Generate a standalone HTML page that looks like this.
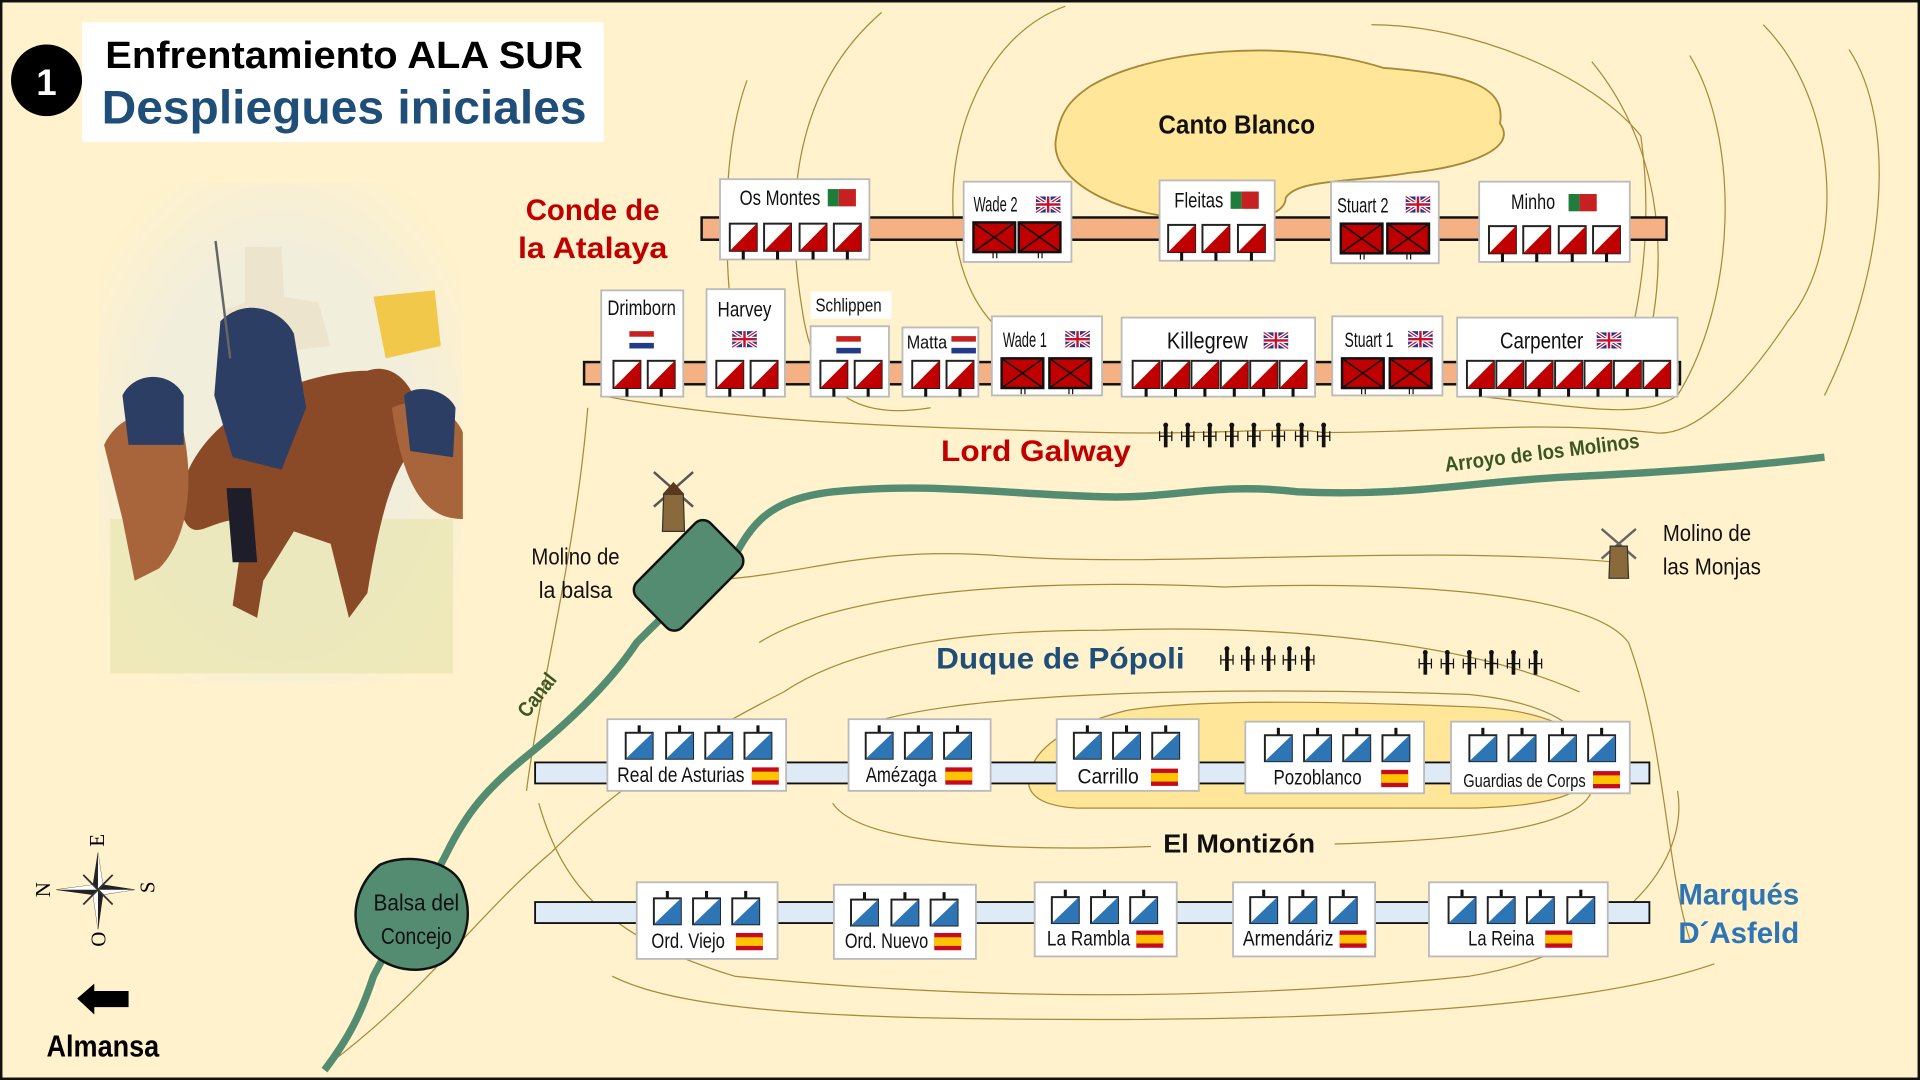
<!DOCTYPE html>
<html><head><meta charset="utf-8"><style>
html,body{margin:0;padding:0;background:#fff2cc;}
svg{display:block;}
.n{font-family:"Liberation Sans Narrow","Liberation Sans",sans-serif;}
</style></head><body>
<svg width="1920" height="1080" viewBox="0 0 1568 874" preserveAspectRatio="none" xmlns="http://www.w3.org/2000/svg">
<defs>
<g id="r"><rect x="0" y="0" width="22" height="22" fill="#fff" stroke="#222" stroke-width="1.6"/><polygon points="22,0 22,22 0,22" fill="#c00000"/><line x1="11" y1="22" x2="11" y2="29" stroke="#111" stroke-width="2.5"/></g>
<g id="c"><rect x="0" y="0" width="34" height="24" fill="#c00000" stroke="#111" stroke-width="2"/><line x1="0" y1="0" x2="34" y2="24" stroke="#111" stroke-width="1.3"/><line x1="34" y1="0" x2="0" y2="24" stroke="#111" stroke-width="1.3"/><line x1="16" y1="24" x2="16" y2="29" stroke="#111"/><line x1="19" y1="24" x2="19" y2="29" stroke="#111"/></g>
<g id="b"><line x1="11" y1="-6" x2="11" y2="0" stroke="#111" stroke-width="2.5"/><rect x="0" y="0" width="22" height="21" fill="#fff" stroke="#222" stroke-width="1.6"/><polygon points="22,0 22,21 0,21" fill="#2e75b6"/></g>
<g id="uk"><rect width="20" height="13" fill="#1f3b8a"/><path d="M0 0L20 13M20 0L0 13" stroke="#fff" stroke-width="3"/><path d="M0 0L20 13M20 0L0 13" stroke="#c8102e" stroke-width="1"/><path d="M10 0V13M0 6.5H20" stroke="#fff" stroke-width="4"/><path d="M10 0V13M0 6.5H20" stroke="#c8102e" stroke-width="2"/></g>
<g id="pt"><rect width="9" height="14" fill="#1e7d3a"/><rect x="9" width="14" height="14" fill="#c62020"/></g>
<g id="nl"><rect width="20" height="14" fill="#fff"/><rect width="20" height="4.5" fill="#c62020"/><rect y="9.5" width="20" height="4.5" fill="#1f3b8a"/></g>
<g id="es"><rect width="22" height="14" fill="#c60b1e"/><rect y="3.5" width="22" height="7" fill="#ffc400"/></g>
<g id="fig"><rect x="-1.5" y="-8" width="3" height="18" fill="#111"/><circle cx="0" cy="-8" r="2" fill="#111"/><path d="M-5 -3V5M5 -3V5M-5 1H5" stroke="#111" stroke-width="1"/></g>
</defs>
<rect x="0" y="0" width="1568" height="874" fill="#fff2cc"/>
<g fill="none" stroke="#a8893a" stroke-width="1">
<path d="M610 65 C590 120 590 200 600 280"/>
<path d="M720 10 C650 70 640 160 655 250 C665 320 700 340 760 330"/>
<path d="M870 5 C800 30 770 120 780 190 C790 260 830 300 940 310 C1100 320 1200 300 1220 280"/>
<path d="M1120 20 C1200 20 1300 60 1340 110 C1350 180 1340 240 1330 280"/>
<path d="M1300 50 C1350 110 1370 200 1340 300"/>
<path d="M1380 45 C1420 110 1420 240 1370 320 C1340 340 1300 330 1200 320"/>
<path d="M1440 20 C1500 80 1510 200 1460 260 C1420 320 1380 355 1350 350 C1250 340 1180 350 1080 350"/>
<path d="M1510 40 C1550 100 1540 220 1490 320"/>
<path d="M490 320 C600 340 700 345 900 350 C1000 352 1050 345 1080 350"/>
<path d="M560 470 C650 470 700 440 820 450 C950 460 1150 440 1320 455"/>
<path d="M620 520 C700 470 900 470 1000 475 C1150 470 1300 480 1330 520 C1360 600 1360 700 1380 760"/>
<path d="M270 860 C350 800 390 740 450 690 C500 640 560 600 640 560 C700 520 800 510 900 510 C1050 505 1200 520 1290 560"/>
<path d="M440 650 C460 720 500 760 600 790 C800 810 1000 810 1200 790 C1320 770 1380 700 1370 640"/>
<path d="M680 650 C700 680 800 690 940 685 M1090 683 C1200 680 1290 670 1300 640 C1310 600 1280 570 1200 562 C1000 555 760 560 700 590"/>
<path d="M500 790 C560 820 700 825 900 825 C1100 825 1300 815 1400 780"/>
<path d="M480 330 C470 450 440 560 430 640"/>
</g>
<path d="M890 70 C940 40 1050 30 1130 55 C1200 60 1230 70 1225 100 C1240 120 1200 135 1150 140 C1100 148 1060 145 1050 160 C1050 175 1020 180 990 178 C920 178 860 150 862 115 C865 90 875 80 890 70Z" fill="#ffe699" stroke="#a8893a" stroke-width="1.5"/>
<text x="1010" y="108" class="n" font-size="21" font-weight="bold" text-anchor="middle" fill="#111" textLength="128" lengthAdjust="spacingAndGlyphs">Canto Blanco</text>
<path d="M920 575 C980 565 1100 568 1200 572 C1260 574 1295 590 1300 615 C1300 640 1280 652 1200 654 L880 654 C845 652 835 640 842 622 C850 600 880 585 920 575Z" fill="#ffe699" stroke="#a8893a" stroke-width="1"/>
<rect x="940" y="670" width="140" height="26" fill="#fff2cc"/>
<text x="1012" y="690" class="n" font-size="21" font-weight="bold" text-anchor="middle" fill="#111" textLength="124" lengthAdjust="spacingAndGlyphs">El Montizón</text>
<path d="M590 470 C610 430 620 405 680 398 C760 390 820 400 900 402 C960 404 990 390 1060 398 C1150 402 1200 390 1280 386 C1360 382 1420 378 1490 370" fill="none" stroke="#548c72" stroke-width="6"/>
<text x="1260" y="372" class="n" font-size="17" font-weight="bold" fill="#385723" text-anchor="middle" transform="rotate(-7 1260 372)" textLength="160" lengthAdjust="spacingAndGlyphs">Arroyo de los Molinos</text>
<path d="M265 866 C285 840 295 820 305 790 C320 760 350 720 365 690 C380 660 395 640 430 612 C470 580 500 550 520 520 C540 500 560 480 590 460" fill="none" stroke="#548c72" stroke-width="6"/>
<rect x="520" y="440" width="85" height="52" rx="9" fill="#548c72" stroke="#111" stroke-width="2" transform="rotate(-45 562 466)"/>
<text x="443" y="566" class="n" font-size="17" font-weight="bold" fill="#385723" text-anchor="middle" transform="rotate(-52 443 566)" textLength="40" lengthAdjust="spacingAndGlyphs">Canal</text>
<path d="M310 700 C330 690 370 695 378 718 C388 745 378 770 360 780 C335 792 305 780 295 760 C285 740 292 715 310 700Z" fill="#548c72" stroke="#111" stroke-width="2"/>
<text x="340" y="737" class="n" font-size="19" text-anchor="middle" fill="#111" textLength="70" lengthAdjust="spacingAndGlyphs">Balsa del</text>
<text x="340" y="764" class="n" font-size="19" text-anchor="middle" fill="#111" textLength="58" lengthAdjust="spacingAndGlyphs">Concejo</text>
<g transform="translate(550,410)"><path d="M-16 -28L16 0M16 -28L-16 0" stroke="#555" stroke-width="2"/><path d="M-8 -10 L8 -10 L9 20 L-9 20Z" fill="#8a6a3a" stroke="#333"/><path d="M-9 -10 L0 -20 L9 -10Z" fill="#5a3a1a"/></g>
<text x="470" y="457" class="n" font-size="19" text-anchor="middle" fill="#111" textLength="72" lengthAdjust="spacingAndGlyphs">Molino de</text>
<text x="470" y="484" class="n" font-size="19" text-anchor="middle" fill="#111" textLength="60" lengthAdjust="spacingAndGlyphs">la balsa</text>
<g transform="translate(1322,448)"><path d="M-14 -20L14 4M14 -20L-14 4" stroke="#666" stroke-width="2"/><path d="M-7 -6 L7 -6 L8 20 L-8 20Z" fill="#8a6a3a" stroke="#333"/></g>
<text x="1394" y="438" class="n" font-size="19" text-anchor="middle" fill="#111" textLength="72" lengthAdjust="spacingAndGlyphs">Molino de</text>
<text x="1398" y="465" class="n" font-size="19" text-anchor="middle" fill="#111" textLength="80" lengthAdjust="spacingAndGlyphs">las Monjas</text>
<rect x="67" y="18" width="426" height="97" fill="#fff"/>
<circle cx="38" cy="65" r="29" fill="#000"/>
<text x="38" y="77" font-family="Liberation Sans" font-weight="bold" font-size="30" fill="#fff" text-anchor="middle">1</text>
<text x="281" y="55" font-family="Liberation Sans" font-weight="bold" font-size="31" fill="#000" text-anchor="middle" textLength="390" lengthAdjust="spacingAndGlyphs">Enfrentamiento ALA SUR</text>
<text x="281" y="100" font-family="Liberation Sans" font-weight="bold" font-size="38" fill="#1f4e79" text-anchor="middle" textLength="396" lengthAdjust="spacingAndGlyphs">Despliegues iniciales</text>
<defs><radialGradient id="pg" cx="0.5" cy="0.5" r="0.6"><stop offset="0.6" stop-color="#f2eedc"/><stop offset="1" stop-color="#fff2cc"/></radialGradient></defs>
<rect x="80" y="148" width="298" height="405" fill="url(#pg)"/>
<rect x="90" y="420" width="280" height="125" fill="#e8e6b0" opacity="0.7"/>
<path d="M200 200 L230 200 L232 240 L260 245 L270 280 L180 290 L185 250 L200 245Z" fill="#ece4cc"/>
<path d="M150 390 C170 330 250 300 300 300 C330 290 350 330 340 360 C320 380 310 420 300 480 L285 500 L270 440 L240 430 L215 470 L210 500 L190 490 L200 420 C170 420 160 440 150 420Z" fill="#8a4a28"/>
<path d="M85 360 C100 330 130 330 150 350 C160 400 150 440 130 460 L110 470 L100 420 Z" fill="#a8643a"/>
<path d="M320 330 C340 320 370 330 378 350 L378 420 C350 420 330 400 320 330Z" fill="#a8643a"/>
<path d="M180 260 C200 240 230 250 240 270 L250 330 L230 380 L190 370 L175 320Z" fill="#2c3e64"/>
<path d="M100 320 C110 300 140 300 150 320 L150 360 L105 360Z" fill="#2c3e64"/>
<path d="M330 320 C340 310 365 315 372 330 L370 370 L335 365Z" fill="#2c3e64"/>
<path d="M305 240 L355 235 L360 280 L315 290Z" fill="#f2c84a"/>
<path d="M185 395 L205 395 L210 455 L190 455Z" fill="#1e1e2a"/>
<line x1="176" y1="195" x2="188" y2="290" stroke="#666" stroke-width="2"/>
<g transform="translate(80,720)">
<path d="M0 -30 L4 -4 L30 0 L4 4 L0 32 L-4 4 L-34 0 L-4 -4Z" fill="#222" stroke="#222" stroke-width="0.5"/>
<path d="M0 -30 L4 -4 L0 0Z M30 0 L4 4 L0 0Z M0 32 L-4 4 L0 0Z M-34 0 L-4 -4 L0 0Z" fill="#fff"/>
<path d="M-12 -12L12 12M12 -12L-12 12" stroke="#333" stroke-width="1.5"/>
<text x="0" y="-35" font-family="Liberation Serif" font-size="17" text-anchor="middle" transform="rotate(-90 0 -40)">E</text>
<text x="-45" y="6" font-family="Liberation Serif" font-size="17" text-anchor="middle" transform="rotate(-90 -45 0)">N</text>
<text x="42" y="6" font-family="Liberation Serif" font-size="17" text-anchor="middle" transform="rotate(-90 40 0)">S</text>
<text x="0" y="46" font-family="Liberation Serif" font-size="17" text-anchor="middle" transform="rotate(-90 0 40)">O</text>
</g>
<path d="M63 808 L77 796 L77 802 L105 802 L105 815 L77 815 L77 821Z" fill="#000"/>
<text x="84" y="855" class="n" font-size="25" font-weight="bold" text-anchor="middle" fill="#000" textLength="92" lengthAdjust="spacingAndGlyphs">Almansa</text>
<text x="484" y="178" font-family="Liberation Sans" font-weight="bold" font-size="24" fill="#c00000" text-anchor="middle">Conde de</text>
<text x="484" y="209" font-family="Liberation Sans" font-weight="bold" font-size="24" fill="#c00000" text-anchor="middle" textLength="122" lengthAdjust="spacingAndGlyphs">la Atalaya</text>
<text x="846" y="373" font-family="Liberation Sans" font-weight="bold" font-size="24" fill="#c00000" text-anchor="middle" textLength="155" lengthAdjust="spacingAndGlyphs">Lord Galway</text>
<text x="866" y="541" font-family="Liberation Sans" font-weight="bold" font-size="24" fill="#1f4e79" text-anchor="middle" textLength="203" lengthAdjust="spacingAndGlyphs">Duque de Pópoli</text>
<text x="1420" y="732" font-family="Liberation Sans" font-weight="bold" font-size="24" fill="#2e75b6" text-anchor="middle">Marqués</text>
<text x="1420" y="763" font-family="Liberation Sans" font-weight="bold" font-size="24" fill="#2e75b6" text-anchor="middle">D´Asfeld</text>
<g><use href="#fig" x="952" y="352"/><use href="#fig" x="970" y="352"/><use href="#fig" x="988" y="352"/><use href="#fig" x="1006" y="352"/><use href="#fig" x="1024" y="352"/><use href="#fig" x="1044" y="352"/><use href="#fig" x="1063" y="352"/><use href="#fig" x="1081" y="352"/></g>
<g><use href="#fig" x="1002" y="533"/><use href="#fig" x="1019" y="533"/><use href="#fig" x="1036" y="533"/><use href="#fig" x="1053" y="533"/><use href="#fig" x="1068" y="533"/></g>
<g><use href="#fig" x="1164" y="536"/><use href="#fig" x="1182" y="536"/><use href="#fig" x="1200" y="536"/><use href="#fig" x="1218" y="536"/><use href="#fig" x="1236" y="536"/><use href="#fig" x="1254" y="536"/></g>
<rect x="573" y="176" width="788" height="18" fill="#f4b183" stroke="#111" stroke-width="2"/>
<rect x="477" y="293" width="895" height="18" fill="#f4b183" stroke="#111" stroke-width="2"/>
<g stroke="#bbb" stroke-width="1.5" fill="#fff">
<rect x="588" y="145" width="122" height="65"/><rect x="787" y="147" width="88" height="65"/><rect x="947" y="146" width="94" height="65"/><rect x="1087" y="147" width="88" height="66"/><rect x="1208" y="147" width="123" height="65"/>
<rect x="491" y="235" width="67" height="86"/><rect x="577" y="234" width="64" height="87"/><rect x="662" y="236" width="66" height="22" stroke="none"/><rect x="662" y="264" width="64" height="57"/><rect x="737" y="265" width="62" height="56"/><rect x="810" y="256" width="90" height="64"/><rect x="916" y="257" width="158" height="64"/><rect x="1088" y="256" width="90" height="64"/><rect x="1190" y="257" width="180" height="64"/>
</g>
<g class="n" font-size="17" fill="#111" text-anchor="middle" lengthAdjust="spacingAndGlyphs">
<text x="637" y="166" textLength="66" lengthAdjust="spacingAndGlyphs">Os Montes</text><use href="#pt" x="676" y="153"/>
<text x="813" y="171" textLength="36" lengthAdjust="spacingAndGlyphs">Wade 2</text><use href="#uk" x="846" y="159"/>
<text x="979" y="168" textLength="40" lengthAdjust="spacingAndGlyphs">Fleitas</text><use href="#pt" x="1005" y="155"/>
<text x="1113" y="172" textLength="42" lengthAdjust="spacingAndGlyphs">Stuart 2</text><use href="#uk" x="1148" y="159"/>
<text x="1252" y="169" textLength="36" lengthAdjust="spacingAndGlyphs">Minho</text><use href="#pt" x="1281" y="157"/>
<text x="524" y="255" textLength="56" lengthAdjust="spacingAndGlyphs">Drimborn</text><use href="#nl" x="514" y="268"/>
<text x="608" y="256" textLength="44" lengthAdjust="spacingAndGlyphs">Harvey</text><use href="#uk" x="598" y="268"/>
<text x="693" y="252" font-size="15" textLength="54" lengthAdjust="spacingAndGlyphs">Schlippen</text><use href="#nl" x="683" y="272"/>
<text x="757" y="282" font-size="15" textLength="33" lengthAdjust="spacingAndGlyphs">Matta</text><use href="#nl" x="777" y="272"/>
<text x="837" y="281" textLength="36" lengthAdjust="spacingAndGlyphs">Wade 1</text><use href="#uk" x="870" y="268"/>
<text x="986" y="282" font-size="19" textLength="66" lengthAdjust="spacingAndGlyphs">Killegrew</text><use href="#uk" x="1032" y="269"/>
<text x="1118" y="281" textLength="40" lengthAdjust="spacingAndGlyphs">Stuart 1</text><use href="#uk" x="1150" y="268"/>
<text x="1259" y="282" font-size="19" textLength="68" lengthAdjust="spacingAndGlyphs">Carpenter</text><use href="#uk" x="1304" y="269"/>
</g>
<g>
<use href="#r" x="596" y="181"/><use href="#r" x="624" y="181"/><use href="#r" x="653" y="181"/><use href="#r" x="681" y="181"/>
<use href="#c" x="795" y="180"/><use href="#c" x="832" y="180"/>
<use href="#r" x="954" y="182"/><use href="#r" x="982" y="182"/><use href="#r" x="1011" y="182"/>
<use href="#c" x="1095" y="181"/><use href="#c" x="1133" y="181"/>
<use href="#r" x="1216" y="183"/><use href="#r" x="1244" y="183"/><use href="#r" x="1273" y="183"/><use href="#r" x="1301" y="183"/>
<use href="#r" x="501" y="292"/><use href="#r" x="529" y="292"/>
<use href="#r" x="585" y="292"/><use href="#r" x="613" y="292"/>
<use href="#r" x="670" y="292"/><use href="#r" x="698" y="292"/>
<use href="#r" x="745" y="292"/><use href="#r" x="773" y="292"/>
<use href="#c" x="818" y="290"/><use href="#c" x="857" y="290"/>
<use href="#r" x="925" y="292"/><use href="#r" x="949" y="292"/><use href="#r" x="973" y="292"/><use href="#r" x="997" y="292"/><use href="#r" x="1021" y="292"/><use href="#r" x="1045" y="292"/>
<use href="#c" x="1096" y="290"/><use href="#c" x="1135" y="290"/>
<use href="#r" x="1198" y="292"/><use href="#r" x="1222" y="292"/><use href="#r" x="1246" y="292"/><use href="#r" x="1270" y="292"/><use href="#r" x="1294" y="292"/><use href="#r" x="1318" y="292"/><use href="#r" x="1342" y="292"/>
</g>
<rect x="437" y="617" width="910" height="17" fill="#deebf7" stroke="#111" stroke-width="1.5"/>
<rect x="437" y="730" width="910" height="17" fill="#deebf7" stroke="#111" stroke-width="1.5"/>
<g stroke="#bbb" stroke-width="1.5" fill="#fff">
<rect x="496" y="582" width="146" height="58"/><rect x="693" y="582" width="116" height="58"/><rect x="863" y="582" width="116" height="58"/><rect x="1017" y="584" width="146" height="58"/><rect x="1185" y="584" width="146" height="58"/>
<rect x="520" y="714" width="115" height="62"/><rect x="681" y="716" width="116" height="60"/><rect x="845" y="714" width="116" height="60"/><rect x="1007" y="714" width="116" height="60"/><rect x="1167" y="714" width="146" height="60"/>
</g>
<g>
<use href="#b" x="511" y="593"/><use href="#b" x="544" y="593"/><use href="#b" x="576" y="593"/><use href="#b" x="608" y="593"/>
<use href="#b" x="707" y="593"/><use href="#b" x="739" y="593"/><use href="#b" x="771" y="593"/>
<use href="#b" x="877" y="593"/><use href="#b" x="909" y="593"/><use href="#b" x="941" y="593"/>
<use href="#b" x="1033" y="595"/><use href="#b" x="1065" y="595"/><use href="#b" x="1097" y="595"/><use href="#b" x="1129" y="595"/>
<use href="#b" x="1200" y="595"/><use href="#b" x="1232" y="595"/><use href="#b" x="1265" y="595"/><use href="#b" x="1297" y="595"/>
<use href="#b" x="534" y="727"/><use href="#b" x="566" y="727"/><use href="#b" x="598" y="727"/>
<use href="#b" x="695" y="728"/><use href="#b" x="728" y="728"/><use href="#b" x="760" y="728"/>
<use href="#b" x="859" y="726"/><use href="#b" x="891" y="726"/><use href="#b" x="923" y="726"/>
<use href="#b" x="1021" y="726"/><use href="#b" x="1053" y="726"/><use href="#b" x="1086" y="726"/>
<use href="#b" x="1183" y="726"/><use href="#b" x="1215" y="726"/><use href="#b" x="1247" y="726"/><use href="#b" x="1280" y="726"/>
</g>
<g class="n" font-size="17" fill="#111" text-anchor="middle">
<text x="556" y="633" textLength="104" lengthAdjust="spacingAndGlyphs">Real de Asturias</text><use href="#es" x="614" y="621"/>
<text x="736" y="633" textLength="58" lengthAdjust="spacingAndGlyphs">Amézaga</text><use href="#es" x="772" y="621"/>
<text x="905" y="634" textLength="50" lengthAdjust="spacingAndGlyphs">Carrillo</text><use href="#es" x="940" y="622"/>
<text x="1076" y="635" textLength="72" lengthAdjust="spacingAndGlyphs">Pozoblanco</text><use href="#es" x="1128" y="623"/>
<text x="1245" y="637" font-size="15" textLength="100" lengthAdjust="spacingAndGlyphs">Guardias de Corps</text><use href="#es" x="1301" y="624"/>
<text x="562" y="767" textLength="60" lengthAdjust="spacingAndGlyphs">Ord. Viejo</text><use href="#es" x="601" y="755"/>
<text x="724" y="767" textLength="68" lengthAdjust="spacingAndGlyphs">Ord. Nuevo</text><use href="#es" x="763" y="755"/>
<text x="889" y="765" textLength="68" lengthAdjust="spacingAndGlyphs">La Rambla</text><use href="#es" x="928" y="753"/>
<text x="1052" y="765" textLength="74" lengthAdjust="spacingAndGlyphs">Armendáriz</text><use href="#es" x="1094" y="753"/>
<text x="1226" y="765" textLength="54" lengthAdjust="spacingAndGlyphs">La Reina</text><use href="#es" x="1262" y="753"/>
</g>
<rect x="1" y="1" width="1566" height="872" fill="none" stroke="#111" stroke-width="2"/>
</svg>
</body></html>
